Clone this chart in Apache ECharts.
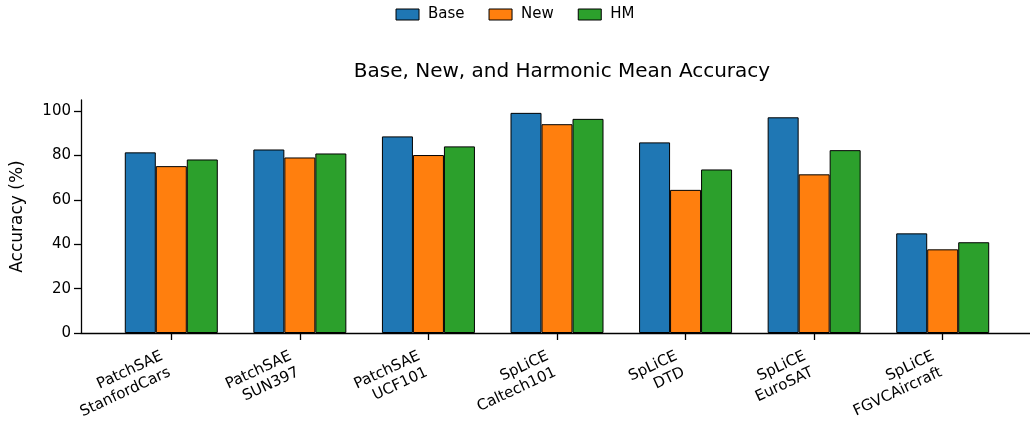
<!DOCTYPE html>
<html>
<head>
<meta charset="utf-8">
<script src="https://cdn.jsdelivr.net/npm/echarts@6/dist/echarts.min.js"></script>
<style>
  html, body { margin: 0; padding: 0; background: #fff; }
  #chart { width: 1030px; height: 423px; }
</style>
</head>
<body>
<div id="chart"></div>
<script>
const categories = [
  "PatchSAE\nStanfordCars",
  "PatchSAE\nSUN397",
  "PatchSAE\nUCF101",
  "SpLiCE\nCaltech101",
  "SpLiCE\nDTD",
  "SpLiCE\nEuroSAT",
  "SpLiCE\nFGVCAircraft"
];
const baseAcc = [81.4, 82.7, 88.6, 99.2, 85.9, 97.2, 44.9];
const newAcc = [75.2, 79.1, 80.2, 94.1, 64.5, 71.5, 37.7];
const hmAcc = [78.2, 80.9, 84.1, 96.5, 73.7, 82.4, 40.9];
const yTicks = [0, 20, 40, 60, 80, 100];

const font = "DejaVu Sans";
const chart = echarts.init(document.getElementById("chart"));

function barSeries(name, data, color) {
  return {
    name,
    type: "bar",
    xAxisIndex: 1,
    yAxisIndex: 1,
    data,
    barWidth: 31,
    barGap: "0%",
    itemStyle: { color, borderColor: "#000", borderWidth: 1 }
  };
}

chart.setOption({
  animation: false,
  backgroundColor: "#fff",
  textStyle: { fontFamily: font },
  title: {
    text: "Base, New, and Harmonic Mean Accuracy",
    left: 557,
    textAlign: "center",
    top: 57,
    textStyle: { fontFamily: font, fontSize: 20, fontWeight: "normal", color: "#000" }
  },
  legend: {
    top: 2,
    left: "center",
    icon: "rect",
    itemWidth: 23,
    itemHeight: 11,
    itemGap: 24,
    itemStyle: { borderColor: "#000", borderWidth: 1 },
    textStyle: { fontFamily: font, fontSize: 15, color: "#000", padding: [0, 0, 0, 4] },
    data: ["Base", "New", "HM"]
  },
  grid: [
    { left: 81, right: -3, top: 100, bottom: 90, outerBoundsMode: "none" },
    { left: 107, right: 23, top: 100, bottom: 90, outerBoundsMode: "none" }
  ],
  xAxis: [
    {
      type: "value",
      gridIndex: 0,
      min: 0,
      max: 1,
      axisLine: { show: true, lineStyle: { color: "#000", width: 1.3 } },
      axisTick: { show: false },
      axisLabel: { show: false },
      splitLine: { show: false }
    },
    {
      type: "category",
      gridIndex: 1,
      data: categories,
      axisLine: { show: false },
      axisTick: { show: true, alignWithLabel: true, length: 7, lineStyle: { color: "#000", width: 1.3 } },
      axisLabel: {
        interval: 0,
        rotate: 25,
        margin: 28,
        padding: [0, 6, 0, 0],
        fontFamily: font,
        fontSize: 15,
        color: "#000",
        lineHeight: 18
      },
      splitLine: { show: false }
    }
  ],
  yAxis: [
    {
      type: "value",
      gridIndex: 0,
      min: 0,
      max: 105,
      name: "Accuracy (%)",
      nameLocation: "middle",
      nameGap: 55,
      nameTextStyle: { fontFamily: font, fontSize: 17, color: "#000" },
      axisLine: { show: true, lineStyle: { color: "#000", width: 1.3 } },
      axisTick: { show: true, length: 7, customValues: yTicks, lineStyle: { color: "#000", width: 1.3 } },
      axisLabel: { customValues: yTicks, margin: 10, fontFamily: font, fontSize: 15, color: "#000" },
      splitLine: { show: false }
    },
    {
      type: "value",
      gridIndex: 1,
      min: 0,
      max: 105,
      show: false,
      splitLine: { show: false }
    }
  ],
  series: [
    barSeries("Base", baseAcc, "#1f77b4"),
    barSeries("New", newAcc, "#ff7f0e"),
    barSeries("HM", hmAcc, "#2ca02c")
  ]
});
</script>
</body>
</html>
